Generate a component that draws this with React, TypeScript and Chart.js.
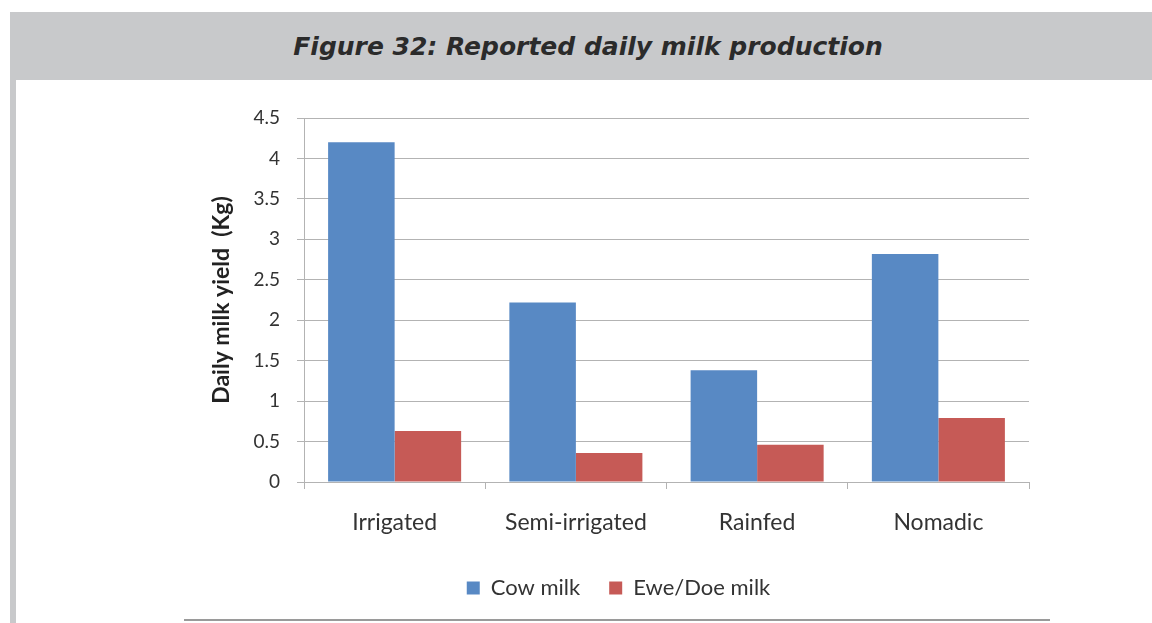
import React, { useEffect, useRef } from "react";
import { Chart, registerables } from "chart.js";

Chart.register(...registerables);

const categories = ["Irrigated", "Semi-irrigated", "Rainfed", "Nomadic"];
const cowMilk = [4.2, 2.22, 1.38, 2.82];
const eweDoeMilk = [0.63, 0.36, 0.46, 0.79];
const seriesNames = ["Cow milk", "Ewe/Doe milk"];
const yMin = 0;
const yMax = 4.5;
const yStep = 0.5;

const titleText = "Figure 32: Reported daily milk production";
const yAxisTitle = "Daily milk yield  (Kg)";

const BLUE = "#5889c4";
const RED = "#c65a56";
const GRID = "#b3b3b3";
const TEXT = "#333333";
const FONT = "Lato, 'Open Sans', sans-serif";

export default function App() {
  const canvasRef = useRef<HTMLCanvasElement | null>(null);

  useEffect(() => {
    if (!canvasRef.current) return;
    const chart = new Chart(canvasRef.current, {
      type: "bar",
      data: {
        labels: categories,
        datasets: [
          {
            label: seriesNames[0],
            data: cowMilk,
            backgroundColor: BLUE,
            borderWidth: 0,
            categoryPercentage: 0.734,
            barPercentage: 1,
          },
          {
            label: seriesNames[1],
            data: eweDoeMilk,
            backgroundColor: RED,
            borderWidth: 0,
            categoryPercentage: 0.734,
            barPercentage: 1,
          },
        ],
      },
      options: {
        animation: false,
        responsive: false,
        maintainAspectRatio: false,
        layout: { padding: { left: 208, right: 123, top: 38, bottom: 11 } },
        plugins: {
          title: { display: false },
          tooltip: { enabled: false },
          legend: {
            position: "bottom",
            labels: {
              boxWidth: 13,
              boxHeight: 13,
              padding: 29,
              color: TEXT,
              font: { family: FONT, size: 22 },
            },
          },
        },
        scales: {
          x: {
            afterFit: (scale: any) => {
              scale.height = 66;
            },
            grid: {
              offset: true,
              drawOnChartArea: false,
              drawTicks: true,
              tickLength: 7,
              color: GRID,
            },
            border: { display: true, color: GRID },
            ticks: {
              color: TEXT,
              padding: 20,
              font: { family: FONT, size: 23 },
              maxRotation: 0,
            },
          },
          y: {
            min: yMin,
            max: yMax,
            afterFit: (scale: any) => {
              scale.width = 96;
            },
            grid: {
              color: GRID,
              tickLength: 7,
              drawTicks: true,
            },
            border: { display: true, color: GRID },
            ticks: {
              stepSize: yStep,
              color: TEXT,
              padding: 17,
              font: { family: FONT, size: 19 },
              callback: (value: any) => String(Number(value)),
            },
            title: {
              display: true,
              text: yAxisTitle,
              color: "#222222",
              padding: { top: 0, bottom: 0 },
              font: { family: FONT, size: 23, weight: "bold" },
            },
          },
        },
      },
    });
    return () => chart.destroy();
  }, []);

  return (
    <div
      style={{
        position: "absolute",
        left: 0,
        top: 0,
        width: 1152,
        height: 623,
        background: "#ffffff",
        overflow: "hidden",
      }}
    >
      <div
        style={{
          position: "absolute",
          left: 10,
          top: 12,
          right: 0,
          height: 68,
          background: "#c8c9cb",
          display: "flex",
          alignItems: "center",
          justifyContent: "center",
          paddingLeft: 14,
          boxSizing: "border-box",
          fontFamily: "'DejaVu Sans', sans-serif",
          fontWeight: "bold",
          fontStyle: "italic",
          fontSize: 25,
          color: "#2b2b2b",
        }}
      >
        {titleText}
      </div>
      <div
        style={{
          position: "absolute",
          left: 10,
          top: 80,
          width: 6,
          bottom: 0,
          background: "#c8c9cb",
        }}
      />
      <canvas
        ref={canvasRef}
        width={1152}
        height={540}
        style={{ position: "absolute", left: 0, top: 80, width: 1152, height: 540 }}
      />
      <div
        style={{
          position: "absolute",
          left: 184,
          top: 619,
          width: 866,
          height: 2,
          background: "#9a9a9a",
        }}
      />
    </div>
  );
}
